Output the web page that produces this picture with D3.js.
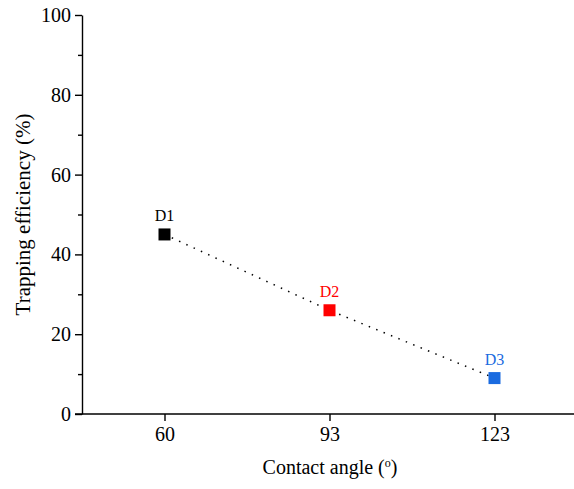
<!DOCTYPE html>
<style>
body { margin: 0; background: #fff; }
.axis { font: 20px "Liberation Serif", "Times New Roman", serif; }
.axis path, .axis line { stroke: #000; stroke-width: 1.4px; }
</style>
<svg width="574" height="489"></svg>
<script src="https://d3js.org/d3.v7.min.js"></script>
<script>
var angles = ["60", "93", "123"];
var efficiency = [45, 26, 9];
var labels = ["D1", "D2", "D3"];
var colors = ["#000000", "#ff0000", "#1a6be0"];
var yTicks = [0, 20, 40, 60, 80, 100];

var svg = d3.select("svg"),
    margin = {top: 15, right: 0, bottom: 75, left: 82},
    height = +svg.attr("height") - margin.top - margin.bottom;

var x = d3.scalePoint()
    .domain(angles)
    .range([margin.left, 577])
    .padding(0.5);

var y = d3.scaleLinear()
    .domain([0, 100])
    .range([margin.top + height, margin.top]);

// minor ticks
svg.append("g")
    .attr("class", "axis")
    .attr("transform", "translate(" + margin.left + ",0)")
    .call(d3.axisLeft(y).tickValues([10, 30, 50, 70, 90]).tickSize(4).tickFormat(""))
    .call(function(g) { g.select(".domain").remove(); });

svg.append("g")
    .attr("class", "axis")
    .attr("transform", "translate(" + margin.left + ",0)")
    .call(d3.axisLeft(y).tickValues(yTicks).tickSize(7).tickSizeOuter(0).tickPadding(4))
    .selectAll("text").attr("fill", "#000");

var xAxis = svg.append("g")
    .attr("class", "axis")
    .attr("transform", "translate(0," + y(0) + ")")
    .call(d3.axisBottom(x).tickSize(7).tickSizeOuter(0).tickPadding(6));
xAxis.select(".domain").attr("d", "M75,0H580");
xAxis.selectAll("text").attr("fill", "#000");

var pts = angles.map(function(a, i) {
  return {a: a, v: efficiency[i], label: labels[i], color: colors[i]};
});

svg.append("path")
    .datum(pts)
    .attr("fill", "none")
    .attr("stroke", "#000")
    .attr("stroke-width", 1.5)
    .attr("stroke-dasharray", "1.5,6.5")
    .attr("d", d3.line().x(function(d) { return x(d.a); }).y(function(d) { return y(d.v); }));

svg.selectAll("rect.pt")
    .data(pts)
  .enter().append("rect")
    .attr("class", "pt")
    .attr("x", function(d) { return x(d.a) - 6; })
    .attr("y", function(d) { return y(d.v) - 6; })
    .attr("width", 12)
    .attr("height", 12)
    .attr("fill", function(d) { return d.color; });

svg.selectAll("text.lbl")
    .data(pts)
  .enter().append("text")
    .attr("class", "lbl")
    .attr("x", function(d) { return x(d.a); })
    .attr("y", function(d) { return y(d.v) - 13; })
    .attr("text-anchor", "middle")
    .attr("font-family", "Liberation Serif, serif")
    .attr("font-size", 16)
    .attr("fill", function(d) { return d.color; })
    .text(function(d) { return d.label; });

var xt = svg.append("text")
    .attr("x", 330)
    .attr("y", 474)
    .attr("text-anchor", "middle")
    .attr("font-family", "Liberation Serif, serif")
    .attr("font-size", 20);
xt.append("tspan").text("Contact angle (");
xt.append("tspan").attr("font-size", 12).attr("dy", -7).text("o");
xt.append("tspan").attr("dy", 7).text(")");

svg.append("text")
    .attr("transform", "translate(30," + (y(50)) + ") rotate(-90)")
    .attr("text-anchor", "middle")
    .attr("font-family", "Liberation Serif, serif")
    .attr("font-size", 21)
    .text("Trapping efficiency (%)");
</script>
